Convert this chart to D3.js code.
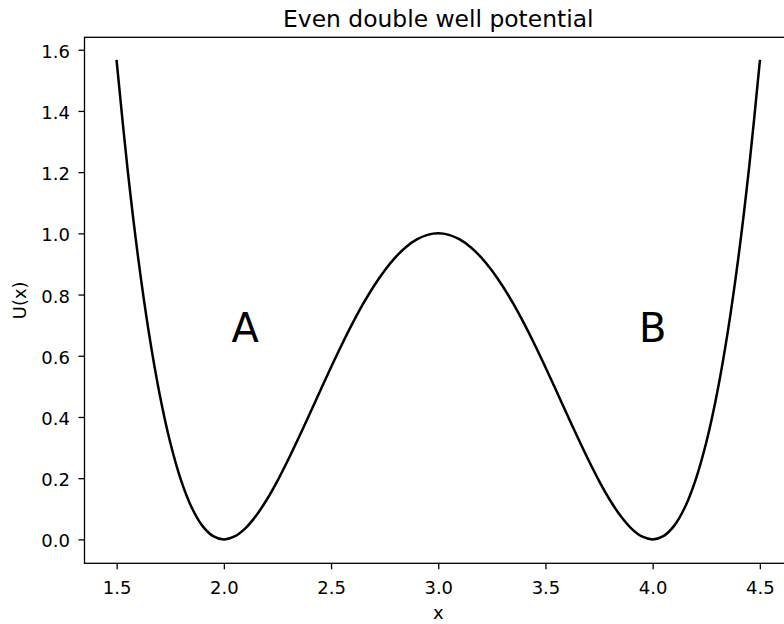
<!DOCTYPE html>
<html>
<head>
<meta charset="utf-8">
<script src="https://cdn.jsdelivr.net/npm/d3@7"></script>
<style>
  html, body { margin: 0; padding: 0; background: #fff; }
  svg { display: block; }
  text { font-family: "DejaVu Sans", sans-serif; fill: #000; }
</style>
</head>
<body>
<svg id="chart" width="784" height="624"></svg>
<script>
// ---- data ----
const xValues = [1.50,1.55,1.60,1.65,1.70,1.75,1.80,1.85,1.90,1.95,
                 2.00,2.05,2.10,2.15,2.20,2.25,2.30,2.35,2.40,2.45,
                 2.50,2.55,2.60,2.65,2.70,2.75,2.80,2.85,2.90,2.95,
                 3.00,3.05,3.10,3.15,3.20,3.25,3.30,3.35,3.40,3.45,
                 3.50,3.55,3.60,3.65,3.70,3.75,3.80,3.85,3.90,3.95,
                 4.00,4.05,4.10,4.15,4.20,4.25,4.30,4.35,4.40,4.45,4.50];
const uValues = [1.5625,1.2155,0.9216,0.6765,0.4761,0.3164,0.1936,0.1040,0.0441,0.0105,
                 0.0000,0.0095,0.0361,0.0770,0.1296,0.1914,0.2601,0.3335,0.4096,0.4865,
                 0.5625,0.6360,0.7056,0.7700,0.8281,0.8789,0.9216,0.9555,0.9801,0.9950,
                 1.0000,0.9950,0.9801,0.9555,0.9216,0.8789,0.8281,0.7700,0.7056,0.6360,
                 0.5625,0.4865,0.4096,0.3335,0.2601,0.1914,0.1296,0.0770,0.0361,0.0095,
                 0.0000,0.0105,0.0441,0.1040,0.1936,0.3164,0.4761,0.6765,0.9216,1.2155,1.5625];
const xTicks = [1.5, 2.0, 2.5, 3.0, 3.5, 4.0, 4.5];
const yTicks = [0.0, 0.2, 0.4, 0.6, 0.8, 1.0, 1.2, 1.4, 1.6];
const annotations = [{label: "A", x: 2.1, y: 0.645}, {label: "B", x: 4.0, y: 0.645}];
const titleText = "Even double well potential";
const xLabel = "x";
const yLabel = "U(x)";

// ---- layout ----
const plotLeft = 84.5, plotRight = 792, plotTop = 37.3, plotBottom = 563.3;
const svg = d3.select("#chart");

const x = d3.scaleLinear().domain([1.35, 4.65]).range([plotLeft, plotRight]);
const y = d3.scaleLinear().domain([-0.078125, 1.640625]).range([plotBottom, plotTop]);

const points = xValues.map((v, i) => [v, uValues[i]]);

// curve
svg.append("path")
  .datum(points)
  .attr("fill", "none")
  .attr("stroke", "#000")
  .attr("stroke-width", 2.5)
  .attr("stroke-linejoin", "round")
  .attr("stroke-linecap", "square")
  .attr("d", d3.line().x(d => x(d[0])).y(d => y(d[1])).curve(d3.curveCatmullRom));

// spines
svg.append("rect")
  .attr("x", plotLeft).attr("y", plotTop)
  .attr("width", plotRight - plotLeft).attr("height", plotBottom - plotTop)
  .attr("fill", "none").attr("stroke", "#000").attr("stroke-width", 1.3);

// axes
const xAxis = svg.append("g")
  .attr("transform", `translate(0,${plotBottom})`)
  .call(d3.axisBottom(x).tickValues(xTicks).tickFormat(d3.format(".1f")).tickSize(6).tickPadding(12));
const yAxis = svg.append("g")
  .attr("transform", `translate(${plotLeft},0)`)
  .call(d3.axisLeft(y).tickValues(yTicks).tickFormat(d3.format(".1f")).tickSize(6).tickPadding(8.5));

[xAxis, yAxis].forEach(g => {
  g.select(".domain").remove();
  g.selectAll(".tick line").attr("stroke", "#000").attr("stroke-width", 1.3);
  g.selectAll(".tick text")
    .attr("font-family", "DejaVu Sans")
    .attr("font-size", 18)
    .attr("fill", "#000");
});
yAxis.selectAll(".tick text").attr("dy", "0.42em");

// annotations
svg.selectAll("text.ann")
  .data(annotations)
  .enter().append("text")
  .attr("class", "ann")
  .attr("x", d => x(d.x))
  .attr("y", d => y(d.y))
  .attr("text-anchor", "middle")
  .attr("font-size", 40)
  .text(d => d.label);

// title
svg.append("text")
  .attr("x", (plotLeft + plotRight) / 2)
  .attr("y", 27)
  .attr("text-anchor", "middle")
  .attr("font-size", 23.4)
  .text(titleText);

// axis labels
svg.append("text")
  .attr("x", (plotLeft + plotRight) / 2)
  .attr("y", 619)
  .attr("text-anchor", "middle")
  .attr("font-size", 18)
  .text(xLabel);

svg.append("text")
  .attr("transform", `translate(26,${(plotTop + plotBottom) / 2}) rotate(-90)`)
  .attr("text-anchor", "middle")
  .attr("font-size", 18)
  .text(yLabel);
</script>
</body>
</html>
